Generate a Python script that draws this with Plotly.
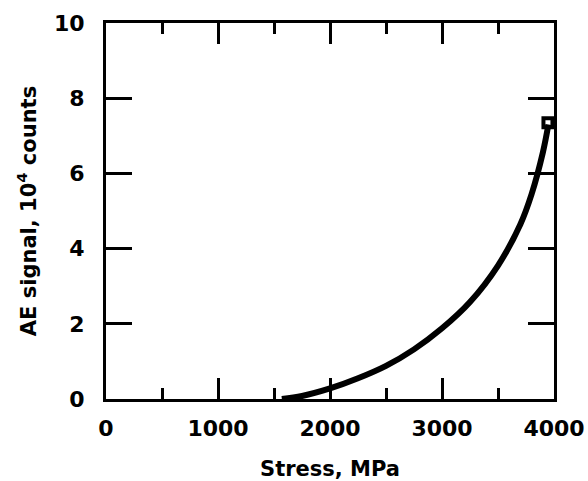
import plotly.graph_objects as go

# AE signal (10^4 counts) versus applied stress (MPa)
stress_mpa = [1570, 1750, 2000, 2250, 2500, 2750, 3000, 3250, 3500, 3700, 3800, 3900, 3950]
ae_counts = [0.0, 0.08, 0.28, 0.55, 0.88, 1.32, 1.88, 2.58, 3.55, 4.65, 5.45, 6.55, 7.30]

# Point at failure
fail_stress = [3946]
fail_ae = [7.35]

x_ticks = [0, 1000, 2000, 3000, 4000]
y_ticks = [0, 2, 4, 6, 8, 10]

FONT = "DejaVu Sans"

fig = go.Figure()
fig.add_trace(go.Scatter(
    x=stress_mpa, y=ae_counts, mode="lines",
    line=dict(color="black", width=6, shape="spline", smoothing=1.0),
    showlegend=False, hoverinfo="skip",
))
fig.add_trace(go.Scatter(
    x=fail_stress, y=fail_ae, mode="markers",
    marker=dict(symbol="square-open", size=9, color="black",
                line=dict(color="black", width=4)),
    showlegend=False, hoverinfo="skip",
))

fig.update_layout(
    width=588, height=481,
    margin=dict(l=106, r=34, t=23, b=82),
    paper_bgcolor="white", plot_bgcolor="white",
    font=dict(family=FONT, color="black"),
)
fig.update_xaxes(
    range=[0, 4000], tickvals=x_ticks, automargin=False,
    showgrid=False, zeroline=False,
    showline=True, linecolor="black", linewidth=3, mirror="ticks",
    ticks="inside", ticklen=21, tickwidth=2.5, tickcolor="black",
    minor=dict(dtick=500, ticks="inside", ticklen=11, tickwidth=2.5, tickcolor="black"),
    tickfont=dict(family=FONT, size=22, color="black", weight="bold"),
    ticklabelstandoff=8,
    title=dict(text="Stress, MPa", font=dict(family=FONT, size=21, color="black", weight="bold"), standoff=22),
)
fig.update_yaxes(
    range=[0, 10], tickvals=y_ticks, automargin=False,
    showgrid=False, zeroline=False,
    showline=True, linecolor="black", linewidth=3, mirror="ticks",
    ticks="inside", ticklen=26, tickwidth=2.5, tickcolor="black",
    tickfont=dict(family=FONT, size=22, color="black", weight="bold"),
    ticklabelstandoff=14,
    title=dict(text="AE signal, 10<sup>4</sup> counts", font=dict(family=FONT, size=21, color="black", weight="bold"), standoff=12),
)

fig.write_html("out.html")
